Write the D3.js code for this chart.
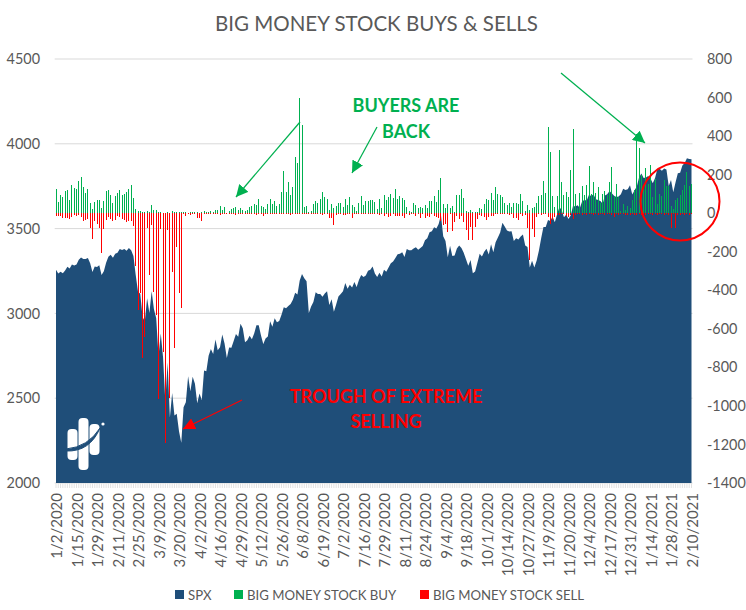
<!DOCTYPE html>
<html>
<head>
<meta charset="utf-8">
<script src="https://cdn.jsdelivr.net/npm/d3@7"></script>
<style>
	html,body{margin:0;padding:0;background:#fff;}
	text{font-family:Lato,"Open Sans",sans-serif;fill:#595959;}
	.axis path{display:none;}
	.axis text{font-size:14.4px;fill:#595959;}
	.axis.dates text{font-size:15px;}
</style>
</head>
<body>
<svg id="chart" width="746" height="610"></svg>
<script>
// SPX closes by month, 1/2/2020 to 2/10/2021
var spx = [
	3258,3235,3246,3237,3253,3275,3265,3289,3283,3289,3317,3330,3321,3321,3326,3295,3244,3276,3273,3284,3226,
	3249,3298,3334,3346,3328,3352,3358,3380,3374,3380,3370,3386,3373,3338,3226,3128,3116,2979,2954,
	3090,3003,3130,3024,2972,2747,2882,2741,2481,2711,2386,2530,2398,2409,2305,2237,2447,2476,2630,2541,2627,2585,
	2470,2527,2489,2664,2659,2750,2790,2761,2846,2783,2800,2875,2823,2737,2799,2798,2837,2878,2863,2939,2912,
	2830,2842,2868,2848,2881,2930,2930,2870,2820,2852,2864,2954,2922,2972,2948,2955,2992,3036,3030,3044,
	3056,3081,3122,3112,3194,3232,3207,3190,3002,3041,3067,3125,3114,3115,3098,3117,3131,3050,3084,3009,3053,3100,
	3115,3130,3179,3146,3169,3152,3185,3155,3197,3227,3215,3224,3251,3257,3276,3235,3215,3239,3218,3258,3246,3271,
	3295,3306,3327,3349,3351,3360,3333,3380,3373,3373,3382,3390,3375,3386,3397,3431,3443,3478,3484,3508,3500,
	3527,3580,3455,3427,3331,3399,3339,3341,3383,3401,3385,3357,3319,3281,3315,3237,3247,3298,3351,3335,3363,
	3381,3348,3408,3361,3419,3447,3477,3534,3512,3489,3483,3484,3427,3443,3436,3453,3465,3401,3391,3271,3310,3270,
	3310,3370,3443,3510,3510,3550,3545,3572,3537,3585,3627,3610,3567,3582,3557,3578,3635,3630,3638,3622,
	3662,3669,3666,3699,3692,3702,3673,3668,3663,3647,3695,3702,3722,3709,3694,3687,3690,3703,3735,3727,3732,3756,
	3701,3726,3748,3803,3825,3799,3801,3810,3795,3768,3799,3852,3853,3841,3855,3849,3751,3787,3714,
	3774,3826,3830,3872,3887,3915,3911,3909
];
var buy = [
	125,57,93,83,114,119,67,145,130,125,
	166,187,135,104,125,52,21,57,67,67,
	26,62,114,119,93,52,88,104,119,93,
	99,109,125,145,78,21,10,10,5,5,
	10,5,41,15,15,5,5,2,2,5,
	2,10,5,5,5,5,5,5,2,5,
	5,5,5,2,5,10,5,5,10,5,
	15,15,36,15,31,2,10,21,26,31,
	15,26,15,10,15,31,36,47,41,73,
	36,31,21,47,73,47,62,36,47,109,
	218,109,161,93,135,291,260,597,457,31,
	36,5,10,47,62,52,73,109,83,73,
	15,47,26,36,52,52,31,73,41,83,
	41,31,10,52,88,41,62,62,67,67,
	57,21,73,26,93,67,83,99,78,125,
	73,88,78,67,31,10,5,52,41,26,
	31,26,41,26,62,62,88,57,119,182,
	47,26,47,26,36,5,93,93,125,78,
	10,5,15,5,5,5,26,21,47,73,
	67,104,67,135,99,93,83,52,41,52,
	31,52,52,47,99,62,10,41,15,26,
	31,52,88,93,166,104,446,317,88,31,
	88,327,161,93,109,83,223,436,99,26,
	104,140,93,145,244,99,161,104,135,52,
	99,114,93,161,239,88,151,83,10,47,
	15,36,26,67,119,410,337,197,145,233,
	151,249,83,176,50,99,88,171,140,140,
	36,21,67,78,93,119,145,213,140,151
];
var sell = [
	-15,-15,-15,-26,-26,-26,-31,-20,-10,-15,
	-10,-20,-41,-36,-31,-78,-135,-41,-57,-78,
	-208,-83,-36,-20,-31,-41,-36,-15,-20,-31,
	-36,-47,-41,-41,-67,-273,-503,-415,-750,-642,
	-78,-322,-62,-408,-529,-965,-83,-720,-1194,-88,
	-960,-304,-699,-175,-413,-493,-5,-15,-5,-10,
	-5,-5,-26,-26,-41,-5,-5,-3,-2,-3,
	-2,-3,-8,-5,-3,-2,-5,-3,-5,-8,
	-3,-5,-3,-3,-5,-5,-3,-5,-8,-3,
	-5,-15,-5,-3,-5,-3,-5,-3,-5,-3,
	-3,-5,-3,-8,-5,-3,-5,-3,-5,-3,
	-3,-5,-3,-2,-3,-5,-3,-10,-5,-3,
	-26,-26,-62,-10,-5,-3,-8,-10,-5,-5,
	-26,-3,-5,-3,-3,-5,-3,-5,-3,-3,
	-3,-5,-10,-5,-15,-5,-20,-15,-5,-15,
	-15,-15,-15,-26,-5,-10,-3,-5,-15,-5,
	-26,-5,-26,-15,-20,-5,-15,-20,-26,-41,
	-62,-57,-99,-5,-93,-47,-15,-31,-15,-47,
	-88,-140,-72,-140,-72,-31,-10,-15,-20,-36,
	-20,-17,-15,-5,-3,-5,-3,-5,-5,-10,
	-5,-26,-26,-36,-5,-15,-10,-78,-244,-83,
	-125,-22,-5,-10,-3,-5,-20,-54,-36,-20,
	-12,-12,-5,-3,-15,-20,-12,-28,-8,-3,
	-5,-8,-5,-8,-3,-5,-10,-5,-8,-3,
	-5,-8,-5,-3,-8,-19,-5,-8,-3,-5,
	-12,-8,-10,-3,-12,-8,-5,-12,-5,-8,
	-3,-5,-8,-3,-8,-5,-3,-8,-5,-8,
	-78,-5,-78,-8,-10,-5,-8,-5,-10,-5
];
// every ninth trading day gets a label
var dateLabels = ['1/2/2020','1/15/2020','1/29/2020','2/11/2020','2/25/2020','3/9/2020','3/20/2020','4/2/2020','4/16/2020','4/29/2020','5/12/2020','5/26/2020','6/8/2020','6/19/2020','7/2/2020','7/16/2020','7/29/2020','8/11/2020','8/24/2020','9/4/2020','9/18/2020','10/1/2020','10/14/2020','10/27/2020','11/9/2020','11/20/2020','12/4/2020','12/17/2020','12/31/2020','1/14/2021','1/28/2021','2/10/2021'];
var leftTicks = [2000,2500,3000,3500,4000,4500];
var rightTicks = [-1400,-1200,-1000,-800,-600,-400,-200,0,200,400,600,800];
var legendNames = ['SPX','BIG MONEY STOCK BUY','BIG MONEY STOCK SELL'];

var NAVY = '#1f4e79', GREEN = '#00b050', RED = '#ff0000';
var svg = d3.select('#chart');
var days = d3.range(spx.length);

var x = d3.scalePoint().domain(days).range([56, 691.5]);
var yLeft = d3.scaleLinear().domain([2000,4500]).range([483,59]);
var yRight = d3.scaleLinear().domain([-1400,800]).range([483,59]);

// grid
svg.append('g').selectAll('line').data(leftTicks).enter().append('line')
	.attr('x1',54.7).attr('x2',692.5)
	.attr('y1',function(d){return yLeft(d);})
	.attr('y2',function(d){return yLeft(d);})
	.attr('stroke','#d9d9d9').attr('stroke-width',1);

// category tick marks
svg.append('g').selectAll('line').data(days).enter().append('line')
	.attr('x1',function(d){return x(d);})
	.attr('x2',function(d){return x(d);})
	.attr('y1',483.5).attr('y2',488)
	.attr('stroke','#d9d9d9').attr('stroke-width',0.8);

var area = d3.area()
	.x(function(d,i){return x(i);})
	.y0(yLeft(2000))
	.y1(function(d){return yLeft(d);});
svg.append('path').datum(spx).attr('d',area).attr('fill',NAVY);

function bars(values,color){
	svg.append('g').attr('shape-rendering','crispEdges').selectAll('rect').data(values).enter().append('rect')
		.attr('x',function(d,i){return Math.round(x(i)-0.5);})
		.attr('width',1)
		.attr('y',function(d){return Math.min(yRight(d),yRight(0));})
		.attr('height',function(d){return Math.abs(yRight(d)-yRight(0));})
		.attr('fill',color);
}
bars(buy,GREEN);
bars(sell,RED);

// axes
svg.append('g').attr('class','axis').attr('transform','translate(47,0)')
	.call(d3.axisLeft(yLeft).tickValues(leftTicks).tickSize(0).tickPadding(7).tickFormat(d3.format('d')));
var rightAxis = svg.append('g').attr('class','axis').attr('transform','translate(699,0)')
	.call(d3.axisRight(yRight).tickValues(rightTicks).tickSize(0).tickPadding(8).tickFormat(function(d){return d;}));
rightAxis.selectAll('text').attr('text-anchor','start');

var bottom = d3.axisBottom(x)
	.tickValues(dateLabels.map(function(d,i){return i*9;}))
	.tickFormat(function(d){return dateLabels[d/9];})
	.tickSize(0);
svg.append('g').attr('class','axis dates').attr('transform','translate(0.5,483)').call(bottom)
	.selectAll('text')
	.attr('text-anchor','end')
	.attr('transform','rotate(-90)')
	.attr('x',-10).attr('y',0).attr('dy','0.35em');

// title
svg.append('text').attr('x',376.5).attr('y',31).attr('text-anchor','middle')
	.style('font-size','20.5px').text('BIG MONEY STOCK BUYS & SELLS');

// legend
var legendX = [175,234,420];
var legendColor = [NAVY,GREEN,RED];
var legend = svg.append('g').selectAll('g').data(legendNames).enter().append('g')
	.attr('transform',function(d,i){return 'translate('+legendX[i]+',590)';});
legend.append('rect').attr('width',9).attr('height',9)
	.attr('fill',function(d,i){return legendColor[i];});
legend.append('text').attr('x',13).attr('y',9.5)
	.style('font-size','13.2px').text(function(d){return d;});

// logo
var logo = svg.append('g');
logo.append('rect').attr('x',67.5).attr('y',429).attr('width',10).attr('height',31).attr('rx',4).attr('fill','#fff');
logo.append('rect').attr('x',78.5).attr('y',418).attr('width',10).attr('height',52).attr('rx',4).attr('fill','#fff');
logo.append('rect').attr('x',89.5).attr('y',424).attr('width',10).attr('height',31).attr('rx',4).attr('fill','#fff');
logo.append('path').attr('d','M66,449 Q88,447 100,428 Q90,452 66,451 Z').attr('fill',NAVY).attr('stroke',NAVY);
logo.append('circle').attr('cx',103).attr('cy',424).attr('r',1.6).attr('fill','#fff');

// arrows and notes
var defs = svg.append('defs');
function head(id,color){
	defs.append('marker').attr('id',id)
		.attr('viewBox','0 0 10 10').attr('refX',10).attr('refY',5)
		.attr('markerUnits','userSpaceOnUse')
		.attr('markerWidth',12).attr('markerHeight',12).attr('orient','auto')
		.append('path').attr('d','M0,0L10,5L0,10Z').attr('fill',color);
}
head('headGreen',GREEN);
head('headRed',RED);
function arrow(x1,y1,x2,y2,color,id){
	svg.append('line').attr('x1',x1).attr('y1',y1).attr('x2',x2).attr('y2',y2)
		.attr('stroke',color).attr('stroke-width',1.25)
		.attr('marker-end','url(#'+id+')');
}
arrow(300,122,236,197,GREEN,'headGreen');
arrow(377,127,352,173,GREEN,'headGreen');
arrow(561,73,645,143,GREEN,'headGreen');
arrow(242,400,183,429,RED,'headRed');

svg.append('ellipse').attr('cx',680).attr('cy',201.5).attr('rx',39.5).attr('ry',39)
	.attr('fill','none').attr('stroke',RED).attr('stroke-width',2);

function note(lines,cx,ys,color){
	svg.append('g').selectAll('text').data(lines).enter().append('text')
		.attr('x',cx).attr('y',function(d,i){return ys[i];})
		.attr('text-anchor','middle')
		.style('fill',color).style('font-size','18px').style('font-weight','bold')
		.text(function(d){return d;});
}
note(['BUYERS ARE','BACK'],406,[112,138],GREEN);
note(['TROUGH OF EXTREME','SELLING'],386,[403,428],RED);
</script>
</body>
</html>
